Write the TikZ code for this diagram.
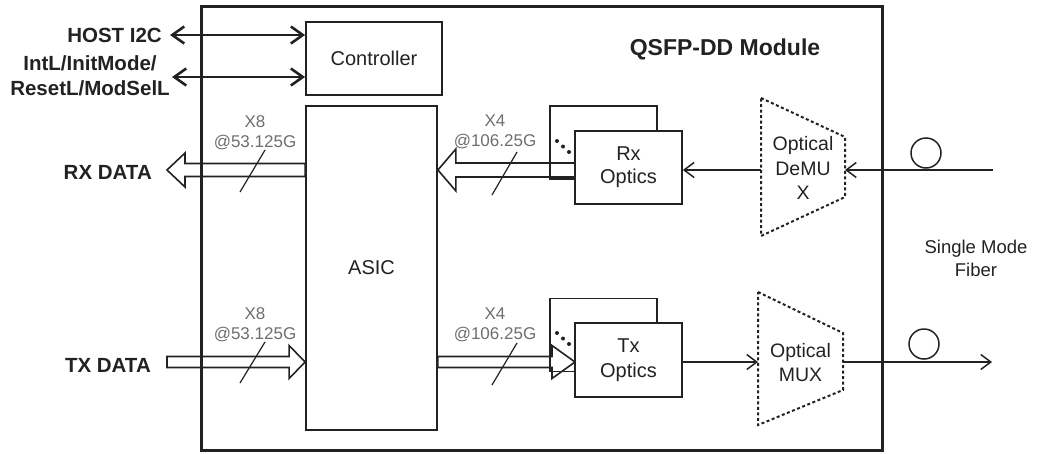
\documentclass[tikz,border=0pt]{standalone}
\usepackage{fontspec}
\setmainfont{Liberation Sans}
\usetikzlibrary{arrows.meta,calc}
\definecolor{ink}{HTML}{222222}
\definecolor{graytxt}{HTML}{6E6E6E}
\tikzset{
  box/.style={draw=ink, line width=1.8pt, fill=white, inner sep=0, text=ink,
    font=\fontsize{20}{22}\selectfont, align=center},
  modbox/.style={draw=ink, line width=3pt, inner sep=0},
  lbl/.style={text=ink, font=\fontsize{19.5}{24.5}\selectfont, align=center, inner sep=0},
  boldlbl/.style={text=ink, font=\fontsize{20.5}{25}\selectfont\bfseries, align=center, inner sep=0},
  rate/.style={text=graytxt, font=\fontsize{17}{20}\selectfont, align=center, inner sep=0},
  sig/.style={draw=ink, line width=1.5pt, -{Straight Barb[length=10pt,width=15pt,line width=1.5pt]}},
  dbl/.style={draw=ink, line width=2.6pt, {Straight Barb[length=12pt,width=17pt,line width=2.6pt]}-{Straight Barb[length=12pt,width=17pt,line width=2.6pt]}},
  hollow/.style={draw=ink, line width=1.6pt, line join=miter},
  trap/.style={draw=ink, line width=2pt, dash pattern=on 3pt off 2.5pt},
  slash/.style={draw=ink, line width=1.2pt},
  fib/.style={draw=ink, line width=1.5pt, circle, minimum size=30pt, inner sep=0},
  dotm/.style={fill=ink, circle, inner sep=0, minimum size=4pt},
}
\newcommand\hollowarr[5]{%
  \coordinate (ha-b) at ($(#2)!#4!(#1)$);
  \draw[hollow] ($(#1)+(0,#3)$) -- ($(ha-b)+(0,#3)$) -- ($(ha-b)+(0,#5)$) -- (#2)
    -- ($(ha-b)+(0,-#5)$) -- ($(ha-b)+(0,-#3)$) -- ($(#1)+(0,-#3)$) -- cycle;}
\begin{document}
\begin{tikzpicture}[x=1pt,y=-1pt]
\useasboundingbox (0,0) rectangle (1037,453);

% module
\node[modbox, minimum width=681pt, minimum height=444pt] (mod) at (541.5,228) {};
\node[font=\fontsize{23}{26}\selectfont\bfseries, text=ink, inner sep=0] (modlbl) at (725,49) {QSFP-DD Module};

% boxes
\node[box, minimum width=136pt, minimum height=73pt] (ctrl) at (374,58.5) {Controller};
\node[box, minimum width=131pt, minimum height=324pt] (asic) at (371.5,268) {ASIC};
\node[box, minimum width=107pt, minimum height=73pt] (rxb) at (603.5,142.5) {};
\node[box, minimum width=107pt, minimum height=73pt] (txb) at (603.5,335) {};
\node[dotm] (rd1) at (557,141) {}; \node[dotm] (rd2) at (563,146.5) {}; \node[dotm] (rd3) at (569,152) {};
\node[dotm] (td1) at (557,333) {}; \node[dotm] (td2) at (563,338.5) {}; \node[dotm] (td3) at (569,344) {};

% hollow arrows
\coordinate (rxdata) at (167,170);
\coordinate (txdata) at (167,362);
\coordinate (rxs) at (asic.west |- rxdata);
\coordinate (txe) at (asic.west |- txdata);
\coordinate (rxa) at (asic.east |- rxdata);
\coordinate (txa) at (asic.east |- txdata);
\coordinate (rxo) at (575,170);
\coordinate (txo) at (575,362);
\hollowarr{rxs}{rxdata}{6.5}{18pt}{17}
\hollowarr{txdata}{txe}{5.5}{16pt}{16.5}
\hollowarr{rxo}{rxa}{7}{18pt}{21}
\hollowarr{txa}{txo}{5.5}{23pt}{16.5}

% front optics boxes
\node[box, minimum width=107pt, minimum height=73pt] (rxf) at (628.5,167.5) {Rx\\[1pt]Optics};
\node[box, minimum width=107pt, minimum height=74pt] (txf) at (628.5,360) {Tx\\[3pt]Optics};

% rate labels and slashes
\node[rate] (r1) at (255,132.5) {X8\\@53.125G};
\node[rate] (r2) at (495,132) {X4\\@106.25G};
\node[rate] (r3) at (255,325) {X8\\@53.125G};
\node[rate] (r4) at (495,325) {X4\\@106.25G};
\draw[slash] (240,192) -- (265,150);
\draw[slash] (492,195) -- (517,152);
\draw[slash] (240,383) -- (265,342);
\draw[slash] (492,385) -- (517,343);

% left labels
\node[boldlbl, anchor=east] (rxl) at (152,172) {RX DATA};
\node[boldlbl, anchor=east] (txl) at (151,365) {TX DATA};
\node[boldlbl, anchor=east] (hostl) at (162,35) {HOST I2C};
\node[boldlbl] (intl) at (90,76) {IntL/InitMode/\\ResetL/ModSelL};

% double arrows
\coordinate (hc) at (170,35);
\coordinate (ic) at (172,77);
\draw[dbl] (hc) -- (ctrl.west |- hc);
\draw[dbl] (ic) -- (ctrl.west |- ic);

% demux / mux
\draw[trap] (761,98) -- (845,137) -- (845,197) -- (761,236) -- cycle;
\node[lbl] (demux) at (803,168) {Optical\\DeMU\\X};
\draw[trap] (758,292) -- (843,333) -- (843,390) -- (758,425) -- cycle;
\node[lbl] (mux) at (800.5,362.5) {Optical\\MUX};
\coordinate (dmL) at (761,170);
\coordinate (dmR) at (845,170);
\coordinate (fibin) at (993,170);
\coordinate (muxL) at (758,362);
\coordinate (muxR) at (843,362);
\coordinate (fibout) at (992,362);
\draw[sig] (fibin) -- (dmR);
\draw[sig] (dmL) -- (rxf.east |- dmL);
\draw[sig] (txf.east |- muxL) -- (muxL);
\draw[sig] (muxR) -- (fibout);

% fibers
\node[fib] (f1) at (926,153) {};
\node[fib] (f2) at (924,344) {};
\node[lbl, font=\fontsize{18.5}{23}\selectfont] (sm) at (976,258.5) {Single Mode\\Fiber};
\end{tikzpicture}
\end{document}
